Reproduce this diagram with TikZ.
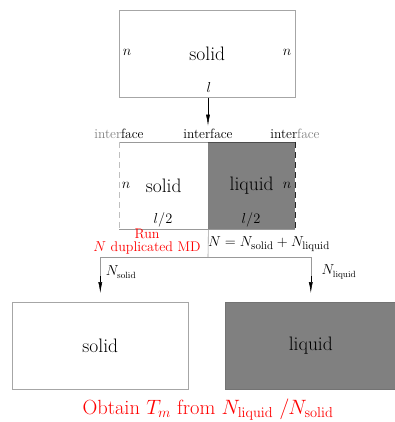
\documentclass[tikz,border=0pt]{standalone}
\usepackage{amsmath,amssymb}
\usepackage{tikz}
\usetikzlibrary{calc,arrows.meta}

\tikzset{
    box/.style={minimum width=176pt,minimum height=87pt,inner sep=0pt,draw=gray!70,line width=0.6pt},
    half/.style={minimum height=87pt,inner sep=0pt},
    lbl/.style={font=\fontsize{19.5}{22}\selectfont},
    edge/.style={font=\fontsize{13.5}{15}\selectfont},
    wire/.style={draw=gray!80,line width=0.6pt},
    tip/.style={-{Latex[length=11pt,width=4pt]},black,line width=0.5pt},
}

\begin{document}
\begin{tikzpicture}[x=1pt,y=-1pt]
    \useasboundingbox (0,0) rectangle (395,422);
    % first system: one solid slab
    \node [box,anchor=north west,lbl] (top) at (119,10) {solid};
    \node [edge] (topl) at (127,52) {\(n\)};
    \node [edge] (topr) at (287,52) {\(n\)};
    \node [edge] (len) at (209,88) {\(l\)};
    % the three interfaces
    \node [edge] (ifl) at (119,134) {{\color{gray}inter}face};
    \node [edge] (ifc) at (208,134) {interface};
    \node [edge] (ifr) at (295,134) {inter{\color{gray}face}};
    \draw [tip] (top.south -| ifc) -- (ifc.north);
    % coexistence box
    \node [half,minimum width=89pt,fill=white,anchor=north west,lbl] (sol) at (119,142) {solid};
    \node [half,minimum width=87pt,fill=gray,anchor=north west,lbl] (liq) at (208,142) {liquid};
    \draw [wire] (sol.north west) -- (sol.north east);
    \draw [wire] (sol.south west) -- (sol.south east) -- (liq.south east);
    \draw [draw=gray!50,dash pattern=on 6pt off 4pt,line width=0.9pt] (sol.north west) -- (sol.south west);
    \draw [draw=gray!30!black,dash pattern=on 6pt off 4pt,line width=0.9pt] (liq.north east) -- (liq.south east);
    \draw [draw=gray!60!black,line width=0.6pt] (liq.north west) -- (liq.north east);
    \node [edge] (soln) at (126,185) {\(n\)};
    \node [edge] (liqn) at (287,185) {\(n\)};
    \node [edge] (solh) at (163,220) {\(l/2\)};
    \node [edge] (liqh) at (251,220) {\(l/2\)};
    % split into runs
    \coordinate (split) at (208,257);
    \node [edge,red,align=center,inner sep=0pt,font=\fontsize{14}{13}\selectfont] (run) at (147,242) {Run\\\(N\) duplicated MD};
    \node [edge,font=\fontsize{15}{17}\selectfont] (sum) at (269,244) {\(N=N_{\mathrm{solid}}+N_{\mathrm{liquid}}\)};
    % final states
    \node [box,anchor=north west,lbl] (fsol) at (12,302) {solid};
    \node [box,anchor=north west,minimum width=171pt,fill=gray,draw=gray!90!black,lbl] (fliq) at (225,302) {liquid};
    \draw [wire] (sol.south east) -- (split);
    \draw [wire] (split) -| ($(fsol.north)+(0,-26)$) coordinate (dl);
    \draw [wire] (split) -| ($(fliq.north)+(0,-26)$) coordinate (dr);
    \draw [tip] (dl) -- ($(fsol.north)+(0,-9)$);
    \draw [tip] (dr) -- ($(fliq.north)+(0,-9)$);
    \node [edge] (nsol) at (121,272) {\(N_{\mathrm{solid}}\)};
    \node [edge] (nliq) at (339,272) {\(N_{\mathrm{liquid}}\)};
    \node [red,font=\fontsize{20.5}{22}\selectfont] (res) at (208,410) {Obtain \(T_m\) from \(N_{\mathrm{liquid}}\ /N_{\mathrm{solid}}\)};
\end{tikzpicture}
\end{document}
